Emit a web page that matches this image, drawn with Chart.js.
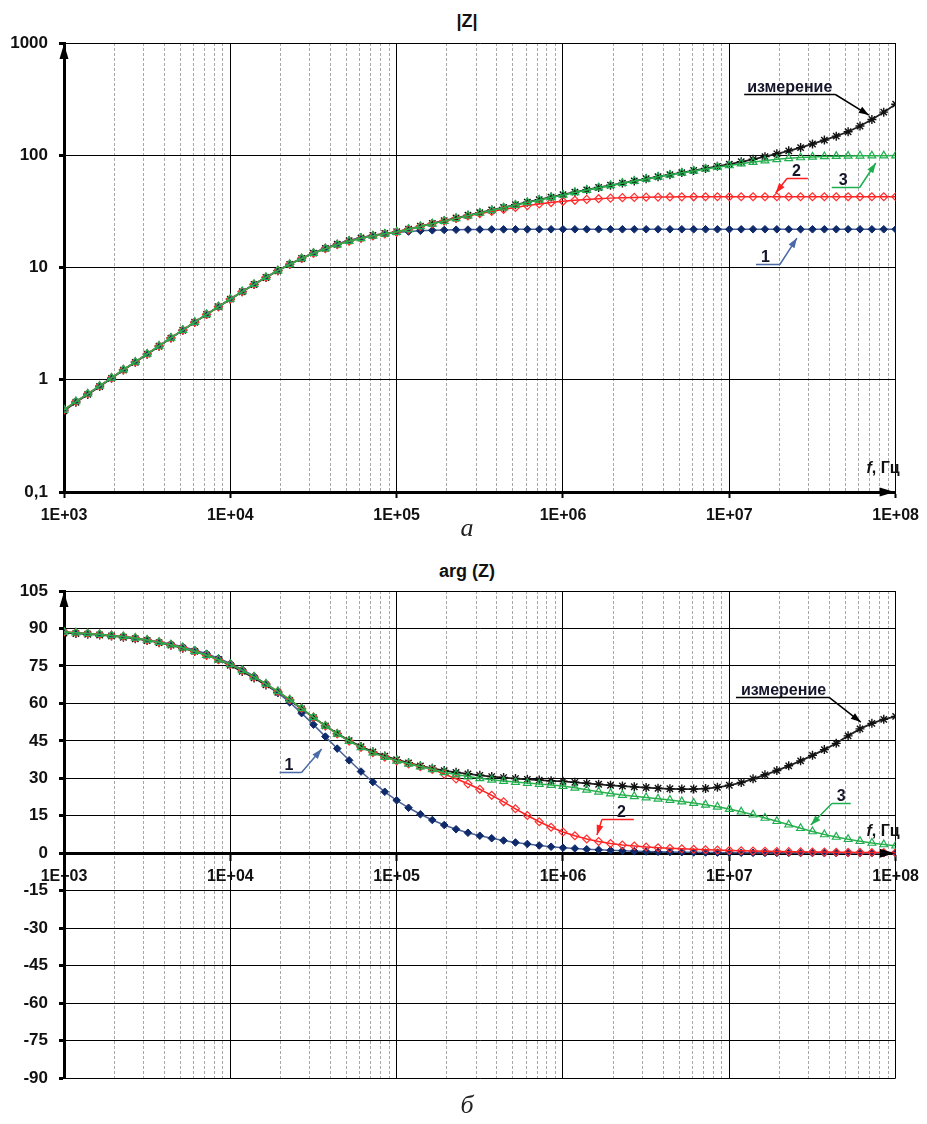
<!DOCTYPE html>
<html lang="ru">
<head>
<meta charset="utf-8">
<title>|Z|, arg (Z)</title>
<script src="https://cdn.jsdelivr.net/npm/chart.js@4.4.1/dist/chart.umd.min.js"></script>
<style>
  html, body { margin: 0; padding: 0; background: #fff; }
  body { position: relative; width: 927px; height: 1124px; overflow: hidden; }
  canvas { position: absolute; left: 0; }
  #chartMod { top: 0; }
  #chartArg { top: 540px; }
  .ttl { position: absolute; left: 0; width: 934px; text-align: center; font: bold 18px 'Liberation Sans', Arial, sans-serif; color: #111; }
  .cap { position: absolute; left: 0; width: 934px; text-align: center; font: italic 26px 'Liberation Serif', 'Times New Roman', serif; color: #222; }
</style>
</head>
<body>
<div class="ttl" style="top:11px">|Z|</div>
<canvas id="chartMod" width="927" height="540"></canvas>
<div class="cap" style="top:513px">а</div>
<div class="ttl" style="top:561px">arg (Z)</div>
<canvas id="chartArg" width="927" height="584"></canvas>
<div class="cap" style="top:1090px">б</div>

<script>
const FONT = "'Liberation Sans', Arial, sans-serif";

// частоты расчёта: 14 точек на декаду
const freqMantissa = [1, 1.179, 1.389, 1.638, 1.931, 2.276, 2.683, 3.162, 3.728, 4.394, 5.179, 6.105, 7.197, 8.483];
const freqDecades = [1e3, 1e4, 1e5, 1e6, 1e7];
const freqLast = 1e8;

// |Z|, модель 1
const modModel1 = [
  0.54, 0.64, 0.75, 0.88, 1.04, 1.23, 1.44, 1.70, 2.00, 2.36, 2.77, 3.26, 3.82, 4.48,
  5.24, 6.11, 7.10, 8.21, 9.43, 10.74, 12.12, 13.52, 14.89, 16.19, 17.36, 18.39, 19.26, 19.96,
  20.50, 20.91, 21.22, 21.44, 21.59, 21.69, 21.76, 21.81, 21.84, 21.86, 21.87, 21.88, 21.89, 21.89,
  21.9, 21.9, 21.9, 21.9, 21.9, 21.9, 21.9, 21.9, 21.9, 21.9, 21.9, 21.9, 21.9, 21.9,
  21.9, 21.9, 21.9, 21.9, 21.9, 21.9, 21.9, 21.9, 21.9, 21.9, 21.9, 21.9, 21.9, 21.9, 21.9
];
// |Z|, модель 2
const modModel2 = [
  0.54, 0.64, 0.75, 0.88, 1.04, 1.23, 1.44, 1.70, 2.00, 2.36, 2.77, 3.26, 3.82, 4.48,
  5.24, 6.11, 7.09, 8.19, 9.39, 10.68, 12.03, 13.40, 14.74, 16.00, 17.16, 18.20, 19.12, 19.95,
  20.7, 21.9, 23.2, 24.6, 26.0, 27.4, 28.8, 30.2, 31.6, 33.0, 34.3, 35.6, 36.8, 37.9,
  38.9, 39.7, 40.4, 41.0, 41.5, 41.9, 42.1, 42.3, 42.4, 42.5, 42.6, 42.65, 42.7, 42.7,
  42.7, 42.7, 42.7, 42.7, 42.7, 42.7, 42.7, 42.7, 42.7, 42.7, 42.7, 42.7, 42.7, 42.7, 42.7
];
// |Z|, модель 3
const modModel3 = [
  0.54, 0.64, 0.75, 0.88, 1.04, 1.23, 1.44, 1.70, 2.00, 2.36, 2.77, 3.26, 3.82, 4.48,
  5.24, 6.11, 7.09, 8.19, 9.39, 10.68, 12.03, 13.40, 14.74, 16.00, 17.16, 18.20, 19.12, 19.95,
  20.7, 21.9, 23.2, 24.5, 25.9, 27.4, 29.0, 30.6, 32.3, 34.1, 36.0, 38.0, 40.0, 42.1,
  44.3, 46.6, 49.0, 51.4, 53.8, 56.3, 58.9, 61.5, 64.2, 66.9, 69.7, 72.5, 75.4, 78.3,
  81.2, 84.1, 86.9, 89.5, 91.9, 93.9, 95.5, 96.7, 97.6, 98.2, 98.6, 98.9, 99.1, 99.2, 99.3
];
// |Z|, измерение
const modMeasured = [
  0.53, 0.63, 0.74, 0.87, 1.03, 1.22, 1.43, 1.69, 1.99, 2.35, 2.76, 3.25, 3.81, 4.47,
  5.22, 6.08, 7.06, 8.15, 9.36, 10.66, 12.03, 13.43, 14.81, 16.12, 17.32, 18.38, 19.30, 20.08,
  20.8, 22.0, 23.3, 24.7, 26.1, 27.6, 29.2, 30.8, 32.5, 34.3, 36.2, 38.2, 40.2, 42.4,
  44.6, 46.9, 49.2, 51.6, 54.0, 56.5, 59.1, 61.7, 64.4, 67.2, 70.1, 73.1, 76.3, 79.7,
  83.4, 87.5, 92.0, 97.2, 103.0, 109.5, 117.0, 126.0, 136.5, 148, 162, 182, 208, 242, 285
];

// arg(Z), град
const argModel1 = [
  88.6, 88.3, 88.0, 87.7, 87.2, 86.8, 86.2, 85.5, 84.7, 83.8, 82.7, 81.4, 79.9, 78.1,
  76.0, 73.6, 70.9, 67.8, 64.3, 60.4, 56.1, 51.5, 46.7, 41.9, 37.2, 32.7, 28.5, 24.6,
  21.2, 18.2, 15.6, 13.3, 11.3, 9.6, 8.2, 7.0, 6.0, 5.1, 4.3, 3.7, 3.1, 2.6,
  2.2, 1.9, 1.6, 1.35, 1.15, 0.98, 0.83, 0.7, 0.6, 0.5, 0.43, 0.36, 0.31, 0.26,
  0.22, 0.19, 0.16, 0.14, 0.12, 0.10, 0.08, 0.07, 0.06, 0.05, 0.04, 0.04, 0.03, 0.03, 0.02
];
const argModel2 = [
  88.6, 88.3, 88.0, 87.7, 87.2, 86.8, 86.2, 85.4, 84.5, 83.5, 82.3, 80.9, 79.3, 77.5,
  75.6, 73.2, 70.6, 67.8, 64.8, 61.5, 58.0, 54.4, 51.0, 47.8, 44.9, 42.4, 40.3, 38.5,
  37.0, 35.8, 34.7, 33.6, 31.7, 29.8, 27.8, 25.6, 23.2, 20.6, 17.8, 15.1, 12.6, 10.4,
  8.5, 7.0, 5.7, 4.7, 3.9, 3.3, 2.9, 2.5, 2.2, 1.95, 1.75, 1.55, 1.4, 1.25,
  1.1, 1.0, 0.9, 0.8, 0.7, 0.62, 0.55, 0.5, 0.45, 0.4, 0.36, 0.32, 0.29, 0.26, 0.23
];
const argModel3 = [
  88.6, 88.3, 88.0, 87.7, 87.2, 86.8, 86.2, 85.4, 84.5, 83.5, 82.3, 80.9, 79.3, 77.5,
  75.6, 73.2, 70.6, 67.8, 64.8, 61.5, 58.0, 54.4, 51.0, 47.8, 44.9, 42.4, 40.3, 38.5,
  37.0, 35.8, 34.7, 33.6, 32.4, 31.5, 30.7, 30.0, 29.4, 28.9, 28.5, 28.1, 27.7, 27.3,
  26.9, 26.2, 25.4, 24.6, 23.9, 23.3, 22.8, 22.3, 21.8, 21.3, 20.7, 20.1, 19.4, 18.6,
  17.7, 16.6, 15.4, 14.1, 12.8, 11.4, 10.0, 8.7, 7.5, 6.5, 5.6, 4.8, 4.1, 3.5, 3.0
];
const argMeasured = [
  88.2, 88.0, 87.7, 87.4, 87.0, 86.5, 85.9, 85.2, 84.3, 83.3, 82.1, 80.8, 79.3, 77.6,
  75.2, 72.8, 70.2, 67.4, 64.4, 61.2, 57.8, 54.3, 51.0, 47.9, 45.1, 42.7, 40.6, 38.9,
  37.5, 36.2, 35.0, 34.0, 33.1, 32.4, 31.8, 31.2, 30.7, 30.3, 29.9, 29.6, 29.3, 29.0,
  28.8, 28.4, 28.0, 27.6, 27.2, 26.9, 26.6, 26.3, 26.0, 25.8, 25.7, 25.7, 25.9, 26.4,
  27.2, 28.3, 29.8, 31.4, 33.1, 35.0, 37.0, 39.2, 41.5, 44.0, 47.0, 49.8, 52.0, 53.6, 54.8
];

// оси
const xDecadeLabels = ['1E+03', '1E+04', '1E+05', '1E+06', '1E+07', '1E+08'];
const xGridMantissa = [1, 2, 3, 4, 5, 6, 7, 8, 9];
const modTicks = [0.1, 1, 10, 100, 1000];
const modTickLabels = ['0,1', '1', '10', '100', '1000'];
const argTicks = [-90, -75, -60, -45, -30, -15, 0, 15, 30, 45, 60, 75, 90, 105];

// выноски (положение в единицах осей)
const modNotes = [
  { text: 'измерение', f: 1.28e7, v: 366, tipF: 6.9e7, tipV: 228, color: '#000', from: 'right', before: 3, after: 3 },
  { text: '2', f: 2.38e7, v: 65.3, tipF: 1.9e7, tipV: 46.1, color: '#ff2020', from: 'left', before: 5, after: 7 },
  { text: '3', f: 4.55e7, v: 54.3, tipF: 7.6e7, tipV: 85.3, color: '#1fae4f', from: 'right', before: 7, after: 12 },
  { text: '1', f: 1.55e7, v: 11.2, tipF: 2.55e7, tipV: 18.3, color: '#4a6aa8', from: 'right', before: 5, after: 10 }
];
const argNotes = [
  { text: 'измерение', f: 1.175e7, v: 63.4, tipF: 6.17e7, tipV: 52.5, color: '#000', from: 'right', before: 5, after: 3 },
  { text: '3', f: 4.43e7, v: 20.9, tipF: 3.09e7, tipV: 11.3, color: '#1fae4f', from: 'left', before: 5, after: 5 },
  { text: '2', f: 2.11e6, v: 14.5, tipF: 1.6e6, tipV: 7.3, color: '#ff2020', from: 'left', before: 15, after: 8 },
  { text: '1', f: 2.12e4, v: 33.3, tipF: 3.54e4, tipV: 41.7, color: '#4a6aa8', from: 'right', before: 5, after: 8 }
];

const freq = freqDecades.flatMap(d => freqMantissa.map(m => m * d)).concat([freqLast]);
const xGridValues = freqDecades.flatMap(d => xGridMantissa.map(m => m * d)).concat([freqLast]);
const xDecadeValues = freqDecades.concat([freqLast]);

function isDecade(ctx) {
  return !ctx.tick || xDecadeValues.includes(ctx.tick.value);
}

function toPoints(values) {
  return values.map((v, i) => ({ x: freq[i], y: v }));
}

function makeDatasets(m1, m2, m3, meas) {
  return [
    {
      label: '3', data: toPoints(m3), order: 0,
      borderColor: '#2bb24c', borderWidth: 1.5,
      pointStyle: 'triangle', pointRadius: 4.5, pointBorderWidth: 1.2,
      pointBorderColor: '#1fae4f', pointBackgroundColor: 'rgba(255,255,255,0)'
    },
    {
      label: '2', data: toPoints(m2), order: 1,
      borderColor: '#ff2020', borderWidth: 1.5,
      pointStyle: 'rectRot', pointRadius: 4, pointBorderWidth: 1.2,
      pointBorderColor: '#ff3030', pointBackgroundColor: 'rgba(255,255,255,0)'
    },
    {
      label: '1', data: toPoints(m1), order: 2,
      borderColor: '#4a6296', borderWidth: 1.5,
      pointStyle: 'rectRot', pointRadius: 3.8, pointBorderWidth: 1,
      pointBorderColor: '#0e2a6b', pointBackgroundColor: '#0e2a6b'
    },
    {
      label: 'измерение', data: toPoints(meas), order: 3,
      borderColor: '#222', borderWidth: 1.8,
      pointStyle: 'star', pointRadius: 4.5, pointBorderWidth: 1.4,
      pointBorderColor: '#111', pointBackgroundColor: '#111'
    }
  ];
}

function arrowHead(ctx, x1, y1, x2, y2, len, half) {
  const a = Math.atan2(y2 - y1, x2 - x1);
  const bx = x2 - len * Math.cos(a), by = y2 - len * Math.sin(a);
  ctx.beginPath();
  ctx.moveTo(x2, y2);
  ctx.lineTo(bx + half * Math.sin(a), by - half * Math.cos(a));
  ctx.lineTo(bx - half * Math.sin(a), by + half * Math.cos(a));
  ctx.closePath();
  ctx.fill();
}

function drawNote(ctx, xs, ys, n) {
  const tx = xs.getPixelForValue(n.f), ty = ys.getPixelForValue(n.v);
  ctx.font = 'bold 16px ' + FONT;
  ctx.textAlign = 'left';
  ctx.textBaseline = 'alphabetic';
  ctx.fillStyle = '#14142a';
  ctx.fillText(n.text, tx, ty);
  const w = ctx.measureText(n.text).width;
  const uy = ty + 2.5;
  const u1 = tx - n.before, u2 = tx + w + n.after;
  const sx = n.from === 'left' ? u1 : u2;
  const px = xs.getPixelForValue(n.tipF), py = ys.getPixelForValue(n.tipV);
  ctx.strokeStyle = n.color;
  ctx.fillStyle = n.color;
  ctx.lineWidth = 1.5;
  ctx.beginPath();
  ctx.moveTo(u1, uy); ctx.lineTo(u2, uy);
  ctx.moveTo(sx, uy); ctx.lineTo(px, py);
  ctx.stroke();
  arrowHead(ctx, sx, uy, px, py, 10, 3.5);
}

// стрелки осей, подпись f, Гц и выноски
const decorPlugin = {
  id: 'decor',
  afterDraw(chart, args, opts) {
    const { ctx, chartArea: area, scales: { x, y } } = chart;
    const axisY = y.getPixelForValue(opts.axisValue);
    ctx.save();
    ctx.fillStyle = '#000';
    arrowHead(ctx, area.left, area.top + 16, area.left, area.top + 1, 15, 4.5);
    arrowHead(ctx, area.right - 16, axisY, area.right - 1, axisY, 15, 4.5);

    ctx.textBaseline = 'alphabetic';
    ctx.textAlign = 'left';
    ctx.fillStyle = '#111';
    ctx.font = 'bold 16px ' + FONT;
    const rest = ', Гц';
    const wRest = ctx.measureText(rest).width;
    const right = area.right + 4;
    ctx.fillText(rest, right - wRest, axisY - opts.labelLift);
    ctx.font = 'italic bold 16px ' + FONT;
    const wF = ctx.measureText('f').width;
    ctx.fillText('f', right - wRest - wF, axisY - opts.labelLift);

    opts.notes.forEach(n => drawNote(ctx, x, y, n));
    ctx.restore();
  }
};

function xScale(extra) {
  return Object.assign({
    type: 'logarithmic',
    min: freqDecades[0],
    max: freqLast,
    afterBuildTicks: s => { s.ticks = xGridValues.map(v => ({ value: v })); },
    ticks: {
      autoSkip: false, maxRotation: 0, minRotation: 0, padding: 8,
      color: '#111', font: { family: FONT, size: 16, weight: 'bold' },
      callback: v => {
        const i = xDecadeValues.indexOf(v);
        return i >= 0 ? xDecadeLabels[i] : '';
      }
    },
    grid: {
      color: c => isDecade(c) ? '#000' : '#a8a8a8',
      lineWidth: 1,
      tickLength: 6, tickWidth: 2,
      tickColor: c => isDecade(c) ? '#000' : 'rgba(0,0,0,0)'
    },
    border: { display: true, color: '#000', width: 3, dash: c => isDecade(c) ? [] : [3, 2] }
  }, extra);
}

const yTickFont = { family: FONT, size: 17, weight: 'bold' };

const common = {
  responsive: false,
  animation: false,
  devicePixelRatio: 1,
  events: [],
  elements: { line: { tension: 0 } },
  plugins: { legend: { display: false }, tooltip: { enabled: false } }
};

// ====== |Z| ======
new Chart(document.getElementById('chartMod'), {
  type: 'line',
  data: { datasets: makeDatasets(modModel1, modModel2, modModel3, modMeasured) },
  plugins: [decorPlugin],
  options: Object.assign({}, common, {
    layout: { padding: { top: 43, right: 30, left: 0, bottom: 0 } },
    plugins: Object.assign({}, common.plugins, {
      decor: { axisValue: modTicks[0], labelLift: 19, notes: modNotes }
    }),
    scales: {
      x: xScale({ afterFit: s => { s.height = 48; } }),
      y: {
        type: 'logarithmic',
        min: modTicks[0],
        max: modTicks[modTicks.length - 1],
        afterBuildTicks: s => { s.ticks = modTicks.map(v => ({ value: v })); },
        afterFit: s => { s.width = 64; },
        ticks: {
          padding: 11, color: '#111', font: yTickFont,
          callback: v => {
            const i = modTicks.indexOf(v);
            return i >= 0 ? modTickLabels[i] : '';
          }
        },
        grid: { color: '#000', lineWidth: 1, tickLength: 5, tickWidth: 3, tickColor: '#000' },
        border: { display: true, color: '#000', width: 3 }
      }
    }
  })
});

// ====== arg(Z) ======
new Chart(document.getElementById('chartArg'), {
  type: 'line',
  data: { datasets: makeDatasets(argModel1, argModel2, argModel3, argMeasured) },
  plugins: [decorPlugin],
  options: Object.assign({}, common, {
    layout: { padding: { top: 51, right: 30, left: 0, bottom: 46 } },
    plugins: Object.assign({}, common.plugins, {
      decor: { axisValue: 0, labelLift: 17, notes: argNotes }
    }),
    scales: {
      x: xScale({ position: { y: 0 }, afterFit: s => { s.height = 0; } }),
      y: {
        type: 'linear',
        min: argTicks[0],
        max: argTicks[argTicks.length - 1],
        afterBuildTicks: s => { s.ticks = argTicks.map(v => ({ value: v })); },
        afterFit: s => { s.width = 64; },
        ticks: { padding: 11, color: '#111', font: yTickFont, callback: v => String(v) },
        grid: { color: '#000', lineWidth: 1, tickLength: 5, tickWidth: 3, tickColor: '#000' },
        border: { display: true, color: '#000', width: 3 }
      }
    }
  })
});
</script>
</body>
</html>
